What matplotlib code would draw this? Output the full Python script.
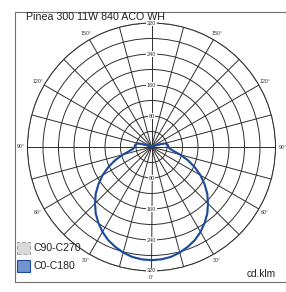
import numpy as np
import matplotlib
matplotlib.use("Agg")
import matplotlib.pyplot as plt
from matplotlib.patches import Rectangle

# ---- data ----
title = "Pinea 300 11W 840 ACO WH"
unit_label = "cd.klm"
gamma_deg = [0, 5, 10, 15, 20, 25, 30, 35, 40, 45, 50, 55, 60, 65, 70, 75, 80, 85,
             90, 95, 100, 105, 110, 115, 120, 125, 130, 140, 150, 160, 170, 180]
c0_c180 = [292, 291, 288, 282, 274, 265, 253, 239, 224, 206, 188, 167, 146, 123, 100,
           77, 57, 47, 44, 43, 41, 36, 18, 6, 2, 1, 0, 0, 0, 0, 0, 0]
c90_c270 = list(c0_c180)
ring_values = [40, 80, 120, 160, 200, 240, 280, 320]
ring_labels = [80, 160, 240, 320]
angle_lines = list(range(0, 360, 15))
angle_labels = [0, 30, 60, 90, 120, 150]
legend_names = ["C90-C270", "C0-C180"]

W, H = 286, 292
fig = plt.figure(figsize=(W / 100, H / 100), dpi=100)
plt.rcParams['font.family'] = ['Liberation Sans', 'DejaVu Sans']

def fx(x):
    return x / W

def fy(y):
    return 1 - y / H

# outer frame
fig.add_artist(Rectangle((fx(15), fy(282)), fx(290) - fx(15), fy(12) - fy(282),
                         transform=fig.transFigure, fill=False, edgecolor='#707070', lw=0.8))

cx, cy, R = 151.5, 147, 124
ax = fig.add_axes([fx(cx - R), fy(cy + R), 2 * R / W, 2 * R / H], projection='polar')
ax.set_theta_zero_location('S')
ax.set_theta_direction(1)
ax.set_ylim(0, 320)
ax.set_xticks(np.deg2rad(angle_lines))
ax.set_xticklabels([])
ax.set_yticks(ring_values)
ax.set_yticklabels([])
ax.grid(True, color='#2e2e2e', lw=0.7)
ax.spines['polar'].set_color('#2e2e2e')
ax.spines['polar'].set_linewidth(0.7)
ax.patch.set_alpha(0)

def full_curve(g, v):
    g = np.asarray(g, float)
    v = np.asarray(v, float)
    th = np.concatenate([g, 360 - g[::-1]])
    rr = np.concatenate([v, v[::-1]])
    return np.deg2rad(th), rr

th, rr = full_curve(gamma_deg, c90_c270)
ax.plot(th, rr, color='#b0b0b0', lw=1.2, ls='--', zorder=3)
th, rr = full_curve(gamma_deg, c0_c180)
ax.plot(th, rr, color='#1c4a9e', lw=1.5, zorder=4)

# ring labels on vertical axis
for v in ring_labels:
    for t in (0, 180):
        ax.text(np.deg2rad(t), v, str(v), fontsize=4.0, color='#333333', ha='center', va='center',
                bbox=dict(boxstyle='square,pad=0.15', fc='white', ec='none'), zorder=5)

# angle labels
for a in angle_labels:
    for s in ((1, -1) if a not in (0,) else (1,)):
        ax.text(np.deg2rad(s * a), 338, f"{a}°", fontsize=3.8, color='#333333',
                ha='center', va='center', zorder=5)

# title
fig.text(fx(26), fy(20.5), title, fontsize=7.7, color='#222222', ha='left', va='baseline')
fig.text(fx(247), fy(277), unit_label, fontsize=7.3, color='#222222', ha='left', va='baseline')

# legend
fig.add_artist(Rectangle((fx(17), fy(254)), 13 / W, 12 / H, transform=fig.transFigure,
                         facecolor='#d9d9d9', edgecolor='#a8a8a8', lw=0.8, ls='--'))
fig.add_artist(Rectangle((fx(17), fy(272)), 13 / W, 12 / H, transform=fig.transFigure,
                         facecolor='#7393cc', edgecolor='#1c4a9e', lw=0.8))
fig.text(fx(33), fy(248), legend_names[0], fontsize=7.6, color='#222222', ha='left', va='center')
fig.text(fx(33), fy(266), legend_names[1], fontsize=7.6, color='#222222', ha='left', va='center')

fig.savefig("out.png", dpi=100)
